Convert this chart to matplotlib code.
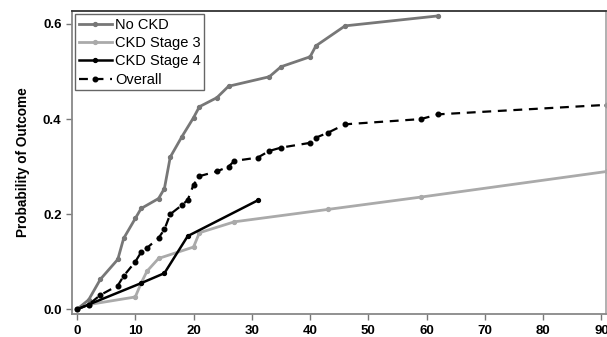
import matplotlib.pyplot as plt

plt.rcParams["font.family"] = ["Liberation Sans", "DejaVu Sans"]

# No CKD
x_no = [0, 2, 4, 7, 8, 10, 11, 14, 15, 16, 18, 20, 21, 24, 26, 33, 35, 40, 41, 46, 62]
y_no = [0, 0.02, 0.063, 0.105, 0.149, 0.191, 0.212, 0.233, 0.254, 0.32, 0.363,
        0.403, 0.426, 0.445, 0.469, 0.489, 0.51, 0.531, 0.554, 0.596, 0.617]

# CKD stage 3
x_s3 = [0, 2, 10, 11, 12, 14, 20, 21, 27, 43, 59, 91]
y_s3 = [0, 0.01, 0.026, 0.055, 0.08, 0.107, 0.131, 0.161, 0.184, 0.21, 0.236, 0.29]

# CKD stage 4
x_s4 = [0, 2, 11, 15, 19, 31]
y_s4 = [0, 0.01, 0.055, 0.076, 0.154, 0.229]

# Overall
x_all = [0, 2, 4, 7, 8, 10, 11, 12, 14, 15, 16, 18, 19, 20, 21, 24, 26, 27, 31,
         33, 35, 40, 41, 43, 46, 59, 62, 91]
y_all = [0, 0.01, 0.03, 0.05, 0.07, 0.10, 0.12, 0.129, 0.15, 0.168, 0.20, 0.219,
         0.23, 0.262, 0.28, 0.29, 0.30, 0.312, 0.319, 0.333, 0.34, 0.35, 0.361,
         0.371, 0.389, 0.40, 0.41, 0.43]

fig = plt.figure(figsize=(6.07, 3.37), dpi=100)
ax = fig.add_axes([0.1186, 0.068, 0.879, 0.899])

ax.plot(x_no, y_no, color="#777777", lw=2, marker="o", ms=2.8, label="No CKD")
ax.plot(x_s3, y_s3, color="#aaaaaa", lw=2, marker="o", ms=2.8, label="CKD Stage 3")
ax.plot(x_s4, y_s4, color="black", lw=1.8, marker="o", ms=2.8, label="CKD Stage 4")
ax.plot(x_all, y_all, color="black", lw=1.6, ls=(0, (4, 3)), marker="o", ms=3.3,
        label="Overall")

ax.set_xlim(-0.86, 90.7)
ax.set_ylim(-0.01, 0.627)
ax.set_xticks(range(0, 91, 10))
ax.set_yticks([0.0, 0.2, 0.4, 0.6])
ax.set_yticklabels(["0.0", "0.2", "0.4", "0.6"])
ax.tick_params(labelsize=9.5, color="#777777", length=4, width=1)
for lab in ax.get_xticklabels() + ax.get_yticklabels():
    lab.set_fontweight("bold")

ax.spines["left"].set_color("#888888")
ax.spines["bottom"].set_color("#888888")
ax.spines["top"].set_color("#333333")
ax.spines["right"].set_color("#aaaaaa")
for s in ax.spines.values():
    s.set_linewidth(1.3)

ax.set_ylabel("Probability of Outcome", fontsize=9.8, fontweight="bold", labelpad=9)

leg = ax.legend(loc="upper left", fontsize=10.5, handlelength=2.3, borderpad=0.25,
                labelspacing=0.3, handletextpad=0.2, fancybox=False,
                borderaxespad=0.2, framealpha=1)
leg.get_frame().set_edgecolor("#666666")
leg.get_frame().set_linewidth(1)

plt.savefig("out.png", dpi=100)
